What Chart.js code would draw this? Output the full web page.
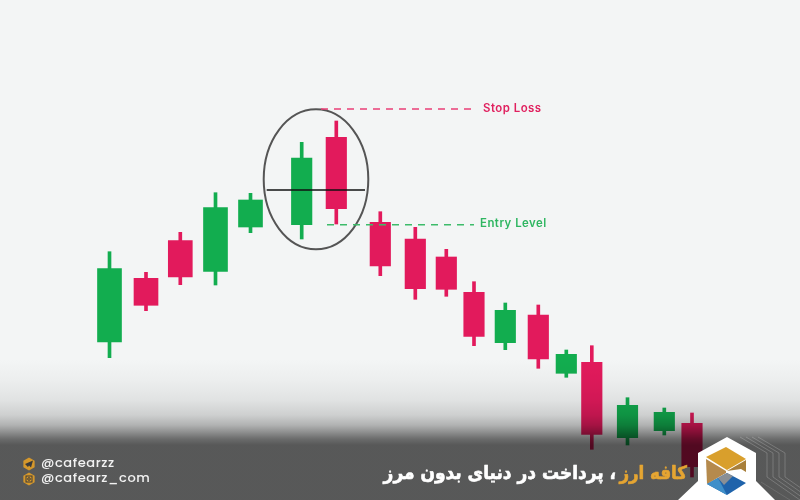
<!DOCTYPE html>
<html><head><meta charset="utf-8">
<style>html,body{margin:0;padding:0;background:#f3f5f5}#w{position:relative;width:800px;height:500px;overflow:hidden}</style>
<script src="https://cdn.jsdelivr.net/npm/chart.js@4"></script>
</head><body><div id="w"><canvas id="c" width="800" height="500"></canvas></div>
<script>
// price = 500 - picture row, so the axis reads upward
const candleX   = [109.5,146,180.3,215.5,250.5,301.7,336.3,380.3,415.3,446.3,474,505.3,538.3,566.3,591.8,627.5,664.3,692];
const wickHigh  = [248.3,227.7,267.7,307.3,306.7,357.7,379,288.3,272.7,250.7,218.3,197,195,150,154.3,102.3,92,87];
const bodyHigh  = [231.3,221.7,259.3,292.3,300,342,362.7,277.7,261,243,207.7,189.7,185,145.7,137.7,94.7,87.7,76.7];
const bodyLow   = [158,194.7,223,228.7,273,275.3,291.3,234,211.3,210.7,163.7,157.3,141,126.7,65.7,62.3,69.3,33.3];
const wickLow   = [142.3,189.3,215.3,215,267.3,261,276,224.3,200.7,203.7,154.3,150.3,131.7,122.7,50.7,55,65,23];
const direction = ['up','down','down','up','up','up','down','down','down','down','down','up','down','up','down','up','up','down'];
const wideCount = 5;
const stopX = [321,472], stopP = [391,391];
const entryX = [327,474], entryP = [275.3,275.3];
const neckX = [266.7,365], neckP = [310,310];
const ring = {x:316, p:320.7, rx:52.3, rp:70};
const labels = [
  {text:'Stop Loss', x:483, p:391.5, color:'#e0215f'},
  {text:'Entry Level', x:480, p:276, color:'#2fb661'}
];
const GREEN='#12ad4f', RED='#e21a5c';
const colorOf = i => direction[i]==='up'?GREEN:RED;

function bars(from,to,lo,hi,thick,order){
  const idx=[]; for(let i=from;i<to;i++) idx.push(i);
  return {type:'bar',order,barThickness:thick,grouped:false,borderSkipped:false,borderWidth:0,
    data:idx.map(i=>({x:candleX[i],y:[lo[i],hi[i]]})),
    backgroundColor:idx.map(colorOf)};
}
function line(xs,ps,color,dash,w,order){
  return {type:'line',order,data:xs.map((x,i)=>({x,y:ps[i]})),borderColor:color,borderWidth:w,borderDash:dash,pointRadius:0,fill:false};
}
function poly(ctx,pts,fill){ctx.fillStyle=fill;ctx.beginPath();pts.forEach((p,i)=>i?ctx.lineTo(p[0],p[1]):ctx.moveTo(p[0],p[1]));ctx.closePath();ctx.fill();}
const overlay={id:'overlay',
  beforeDatasetsDraw(ch){
    const {ctx,scales:{x,y}}=ch;
    ctx.save();
    ctx.strokeStyle='#555';ctx.lineWidth=2;ctx.beginPath();
    ctx.ellipse(x.getPixelForValue(ring.x),y.getPixelForValue(ring.p),
      x.getPixelForValue(ring.x+ring.rx)-x.getPixelForValue(ring.x),
      y.getPixelForValue(ring.p-ring.rp)-y.getPixelForValue(ring.p),0,0,Math.PI*2);
    ctx.stroke();ctx.restore();
  },
  afterDatasetsDraw(ch){
    const {ctx,scales:{x,y}}=ch;
    ctx.save();
    ctx.font='600 11.4px Inter, "Open Sans", sans-serif';ctx.textBaseline='middle';ctx.textAlign='left';
    labels.forEach(l=>{ctx.fillStyle=l.color;ctx.letterSpacing='0.5px';ctx.fillText(l.text,x.getPixelForValue(l.x),y.getPixelForValue(l.p));});
    ctx.letterSpacing='0px';
    ctx.restore();
    // fading band, multiplied over the marks
    ctx.save();
    const g=ctx.createLinearGradient(0,360,0,500);
    const stops=[[360,255],[380,248],[400,236],[415,216],[425,186],[432,150],[439,112],[445,92],[500,92]];
    stops.forEach(s=>{const t=(s[0]-360)/140;g.addColorStop(t,`rgb(${s[1]},${s[1]},${s[1]})`);});
    ctx.globalCompositeOperation='multiply';
    ctx.fillStyle=g;ctx.fillRect(0,360,800,140);
    ctx.restore();
    ctx.save();
    // logo lines
    ctx.strokeStyle='rgba(255,255,255,.2)';ctx.lineWidth=1;
    for(let i=0;i<4;i++){const d=i*6;ctx.beginPath();ctx.moveTo(740+d,437);ctx.lineTo(767+d,453);ctx.lineTo(767+d,477);ctx.lineTo(800+d,500);ctx.stroke();}
    ctx.strokeStyle='rgba(255,255,255,.12)';ctx.beginPath();ctx.moveTo(761,482);ctx.lineTo(790,500);ctx.stroke();
    // logo hexagon
    poly(ctx,[[727,437],[756,453],[756,481],[775,500],[678,500],[698,481],[698,453]],'#fff');
    poly(ctx,[[706,457],[726,447],[746,459],[727,470]],'#d99f2c');
    poly(ctx,[[706,459],[726,471],[726,473],[707,484]],'#b58a4d');
    poly(ctx,[[727,471],[746,460],[746,472],[741,469]],'#a87f3a');
    poly(ctx,[[707,484],[727,473],[746,483],[727,495]],'#1f63ab');
    poly(ctx,[[707,484],[718,478],[727,495]],'#3f8fc9');
    poly(ctx,[[718,478],[727,473],[733,476],[724,485]],'#8a8f95');
    // footer text
    ctx.textBaseline='middle';ctx.textAlign='left';ctx.fillStyle='#f2f2f2';ctx.font='500 13px Poppins, Inter, sans-serif';ctx.letterSpacing='0.6px';
    ctx.fillText('@cafearzz',41,464);ctx.fillText('@cafearz_com',41,479);ctx.letterSpacing='0px';
    [464,479].forEach((cy,n)=>{
      const pts=[];for(let k=0;k<6;k++){const a=Math.PI/3*k+Math.PI/6;pts.push([29+6.5*Math.cos(a),cy+6.5*Math.sin(a)]);}
      poly(ctx,pts,'#d6982b');
      if(n===0){poly(ctx,[[25,cy],[33,cy-3.5],[31,cy+3.5],[29,cy+1.5],[28,cy+3]],'#3a3a3a');}
      else{ctx.strokeStyle='#3a3a3a';ctx.lineWidth=1;ctx.strokeRect(26,cy-3,6,6);ctx.beginPath();ctx.arc(29,cy,1.3,0,Math.PI*2);ctx.stroke();}
    });
    ctx.direction='rtl';ctx.textAlign='right';ctx.font='bold 18.5px "DejaVu Sans Condensed","DejaVu Sans"';ctx.lineWidth=.6;ctx.lineJoin='round';
    ctx.fillStyle=ctx.strokeStyle='#e5a532';ctx.fillText('کافه ارز',687,474);ctx.strokeText('کافه ارز',687,474);
    ctx.font='bold 18.9px "DejaVu Sans Condensed","DejaVu Sans"';
    ctx.fillStyle=ctx.strokeStyle='#fff';ctx.fillText('، پرداخت در دنیای بدون مرز',616,474);ctx.strokeText('، پرداخت در دنیای بدون مرز',616,474);
    ctx.restore();
  }
};
new Chart(document.getElementById('c'),{
  data:{datasets:[
    line(neckX,neckP,'#111',[],1.5,0),
    line(stopX,stopP,'#ea3f77',[7,6],1.4,1),
    line(entryX,entryP,'#3dbb6a',[7,6],1.4,1),
    bars(0,wideCount,bodyLow,bodyHigh,24,2),
    bars(wideCount,18,bodyLow,bodyHigh,20.5,2),
    bars(0,18,wickLow,wickHigh,3,3)
  ]},
  options:{responsive:false,animation:false,events:[],layout:{padding:0},
    plugins:{legend:{display:false},tooltip:{enabled:false},title:{display:false}},
    scales:{x:{type:'linear',min:0,max:800,display:false,offset:false},y:{type:'linear',min:0,max:500,display:false}}},
  plugins:[overlay,{id:'bg',beforeDraw(ch){ch.ctx.save();ch.ctx.fillStyle='#f3f5f5';ch.ctx.fillRect(0,0,800,500);ch.ctx.restore();}}]
});
</script></body></html>
